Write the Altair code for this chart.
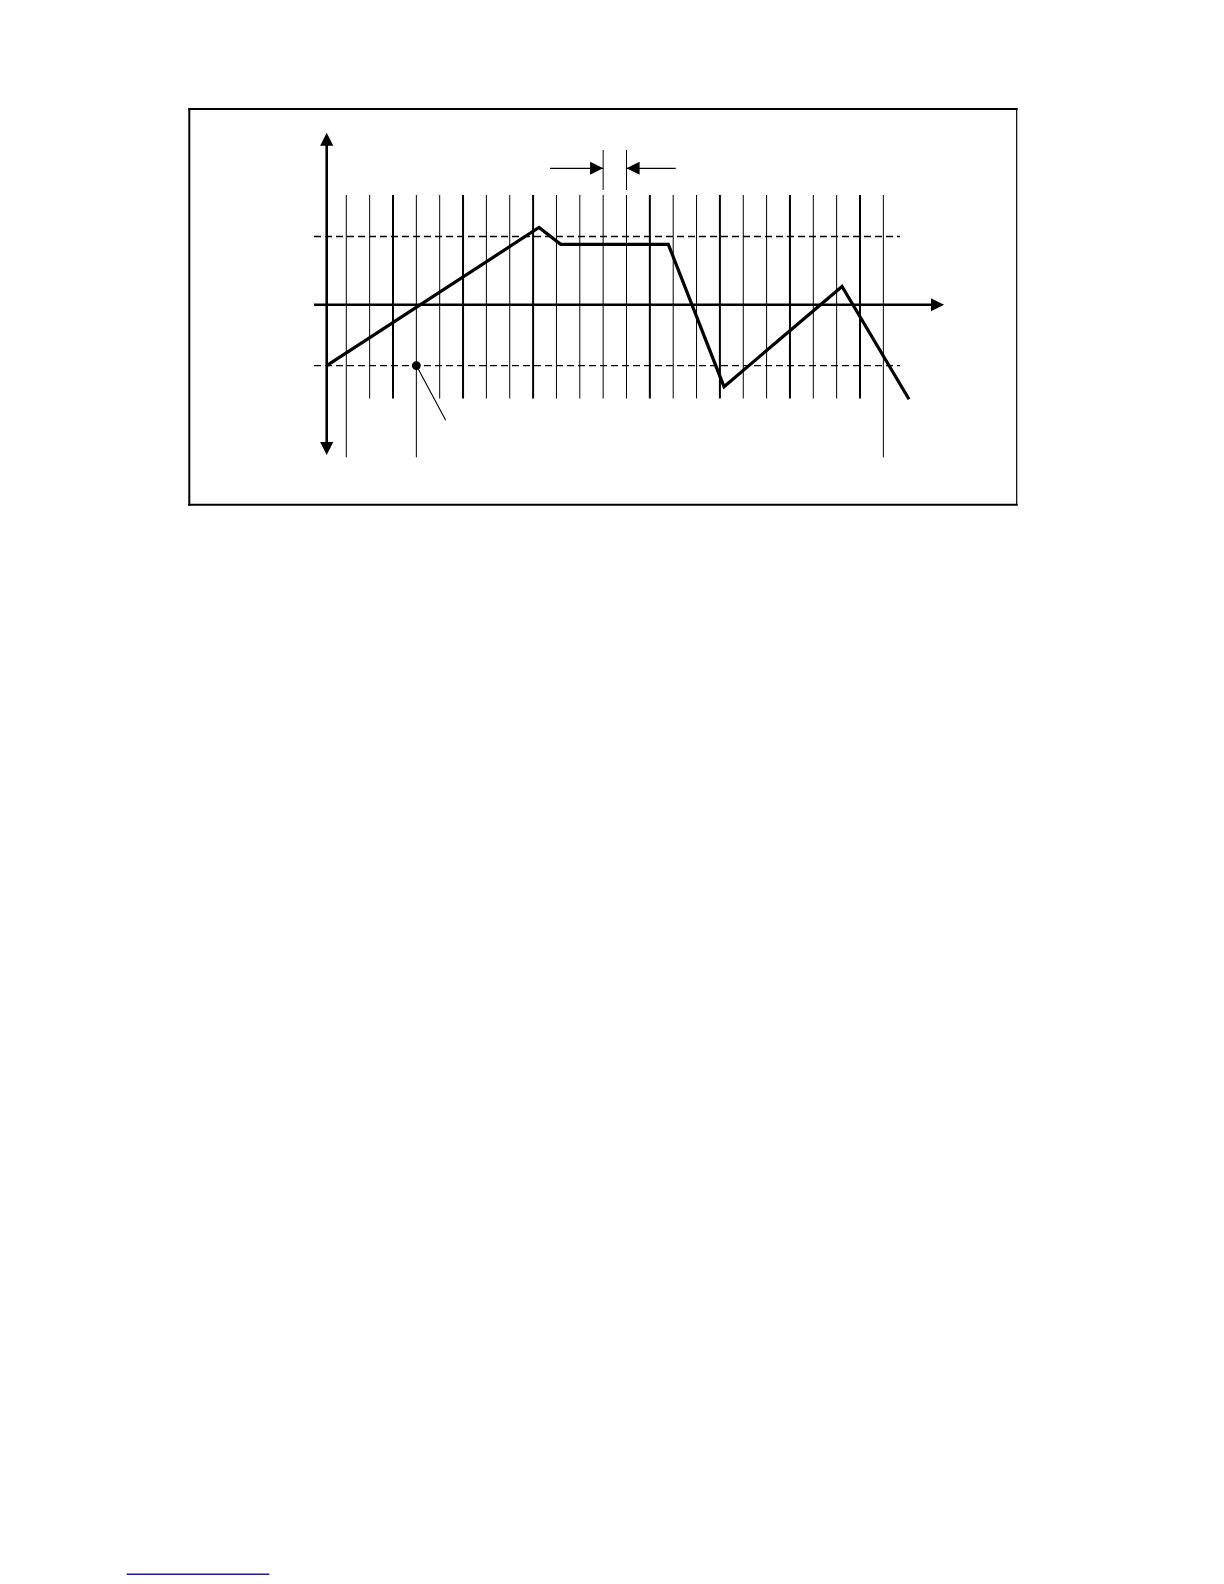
import altair as alt
import pandas as pd

# ---------------- data (chart units: 1 unit = one grid-line spacing) ----------------
grid_t = list(range(24))                      # vertical timing lines
thick_t = [2, 5, 8, 13, 16, 19, 22]           # heavier timing lines
long_t = [0, 3, 23]                           # lines extended downward
grid_top, grid_bottom, long_bottom = 4.698, -4.017, -6.535

sig_t = [-0.839, 8.253, 9.182, 13.79, 16.176, 21.23, 24.10]   # signal vertices
sig_v = [-2.612, 3.306, 2.587, 2.587, -3.512, 0.779, -4.051]

level_v = [2.921, -2.608]                     # dashed threshold levels
level_t = [-1.383, 23.71]

xaxis_t = [-1.383, 25.60]                     # horizontal axis (tip at end)
yaxis_t = -0.839
yaxis_v = [7.366, -6.437]                     # vertical double arrow tips

marker_t, marker_v = 3, -2.608                # sample point
leader_t, leader_v = 4.257, -4.951            # leader line end

dim_t = [11, 12]                              # dimension (one interval)
dim_v = 5.842
dim_ext = [6.625, 4.912]
dim_tail = [8.724, 14.107]

frame_t = [-6.724, 28.71]
frame_v = [-8.565, 8.381]

foot_t = [-9.405, -3.298]                     # footnote separator
foot_v = -54.37

# ---------------- scales ----------------
W, H = 1208, 1568
xs = alt.Scale(domain=[-14.488, 37.246], nice=False, zero=False)
ys = alt.Scale(domain=[(296.7 - H) / 23.35, 296.7 / 23.35], nice=False, zero=False)


def X(f):
    return alt.X(f, type="quantitative", scale=xs, axis=None)


def Y(f):
    return alt.Y(f, type="quantitative", scale=ys, axis=None)


layers = []

# frame
frame = pd.DataFrame([
    {"x": frame_t[0], "x2": frame_t[1], "y": frame_v[1], "y2": frame_v[1], "w": 2.0},
    {"x": frame_t[0], "x2": frame_t[1], "y": frame_v[0], "y2": frame_v[0], "w": 2.0},
    {"x": frame_t[0], "x2": frame_t[0], "y": frame_v[0], "y2": frame_v[1], "w": 2.0},
    {"x": frame_t[1], "x2": frame_t[1], "y": frame_v[0], "y2": frame_v[1], "w": 1.2},
])
layers.append(alt.Chart(frame).mark_rule(color="black", strokeCap="square").encode(
    x=X("x"), x2="x2", y=Y("y"), y2="y2",
    strokeWidth=alt.StrokeWidth("w:Q", scale=None)))

# timing grid
grid = pd.DataFrame({"t": grid_t})
grid["top"] = grid_top
grid["bot"] = [long_bottom if t in long_t else grid_bottom for t in grid_t]
grid["w"] = [2.0 if t in thick_t else 1.0 for t in grid_t]
layers.append(alt.Chart(grid).mark_rule(color="black").encode(
    x=X("t"), y=Y("top"), y2="bot",
    strokeWidth=alt.StrokeWidth("w:Q", scale=None)))

# dashed levels
lev = pd.DataFrame({"v": level_v, "t1": level_t[0], "t2": level_t[1]})
layers.append(alt.Chart(lev).mark_rule(color="black", strokeWidth=1.3, strokeDash=[7, 4]).encode(
    x=X("t1"), x2="t2", y=Y("v")))

# horizontal axis
xa = pd.DataFrame({"t1": [xaxis_t[0]], "t2": [xaxis_t[1] - 0.3], "v": [0.0]})
layers.append(alt.Chart(xa).mark_rule(color="black", strokeWidth=2.4).encode(
    x=X("t1"), x2="t2", y=Y("v")))

# vertical axis
ya = pd.DataFrame({"t": [yaxis_t], "v1": [yaxis_v[0] - 0.3], "v2": [yaxis_v[1] + 0.3]})
layers.append(alt.Chart(ya).mark_rule(color="black", strokeWidth=2.6).encode(
    x=X("t"), y=Y("v1"), y2="v2"))

# dimension extension lines and shafts
ext = pd.DataFrame({"t": dim_t, "v1": dim_ext[0], "v2": dim_ext[1]})
layers.append(alt.Chart(ext).mark_rule(color="black", strokeWidth=1.0).encode(
    x=X("t"), y=Y("v1"), y2="v2"))
shafts = pd.DataFrame({"t1": [dim_tail[0], dim_t[1]], "t2": [dim_t[0], dim_tail[1]], "v": dim_v})
layers.append(alt.Chart(shafts).mark_rule(color="black", strokeWidth=1.2).encode(
    x=X("t1"), x2="t2", y=Y("v")))

# leader line to marker
lead = pd.DataFrame({"t1": [marker_t], "v1": [marker_v], "t2": [leader_t], "v2": [leader_v]})
layers.append(alt.Chart(lead).mark_rule(color="black", strokeWidth=1.1).encode(
    x=X("t1"), x2="t2", y=Y("v1"), y2="v2"))

# signal
sig = pd.DataFrame({"t": sig_t, "v": sig_v, "o": list(range(len(sig_t)))})
layers.append(alt.Chart(sig).mark_line(color="black", strokeWidth=3.2, strokeJoin="miter").encode(
    x=X("t"), y=Y("v"), order="o:Q"))

# marker dot
dot = pd.DataFrame({"t": [marker_t], "v": [marker_v]})
layers.append(alt.Chart(dot).mark_circle(color="black", size=78, opacity=1).encode(
    x=X("t"), y=Y("v")))

# arrowheads (tip at the data point)
UP, DOWN, RIGHT, LEFT = "M0,0L-1,2L1,2Z", "M0,0L-1,-2L1,-2Z", "M0,0L-2,-1L-2,1Z", "M0,0L2,-1L2,1Z"
heads = pd.DataFrame({
    "t": [yaxis_t, yaxis_t, xaxis_t[1], dim_t[0], dim_t[1]],
    "v": [yaxis_v[0], yaxis_v[1], 0.0, dim_v, dim_v],
    "s": [UP, DOWN, RIGHT, RIGHT, LEFT],
})
layers.append(alt.Chart(heads).mark_point(filled=True, color="black", opacity=1, size=172).encode(
    x=X("t"), y=Y("v"), shape=alt.Shape("s:N", scale=None)))

# footnote separator
foot = pd.DataFrame({"t1": [foot_t[0]], "t2": [foot_t[1]], "v": [foot_v]})
layers.append(alt.Chart(foot).mark_rule(color="#1c1c8a", strokeWidth=1.6).encode(
    x=X("t1"), x2="t2", y=Y("v")))

chart = alt.layer(*layers).properties(
    width=W, height=H, padding=0, autosize="none"
).configure_view(stroke=None)

chart.save("out.html", embed_options={"renderer": "svg", "actions": False})
